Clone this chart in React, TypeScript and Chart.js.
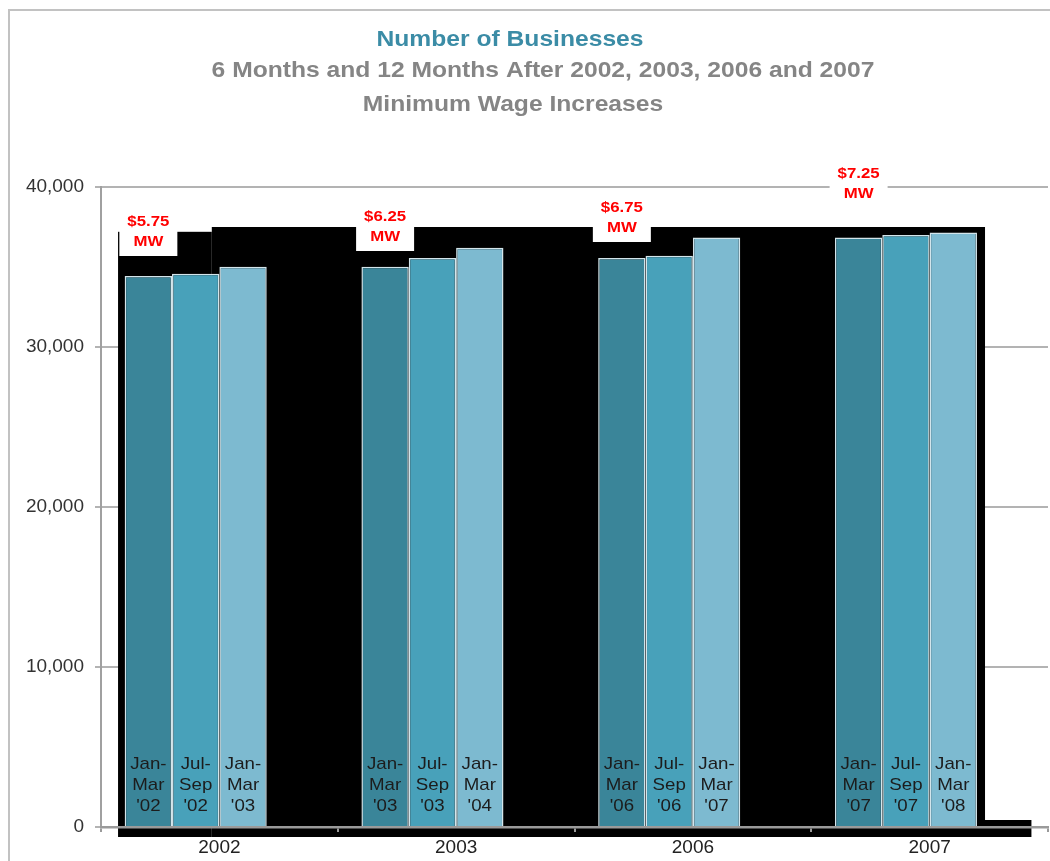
import React, { useEffect, useRef } from 'react';
import { Chart, registerables } from 'chart.js';

Chart.register(...registerables);

// ---- data ----
const categories = ['2002', '2003', '2006', '2007'];
const quarterOfIncrease = [34440, 35020, 35560, 36850];
const sixMonthsAfter = [34580, 35560, 35710, 37000];
const twelveMonthsAfter = [35020, 36210, 36850, 37150];
const quarterOfIncreaseLabels = ["Jan-Mar '02", "Jan-Mar '03", "Jan-Mar '06", "Jan-Mar '07"];
const sixMonthsLabels = ["Jul-Sep '02", "Jul-Sep '03", "Jul-Sep '06", "Jul-Sep '07"];
const twelveMonthsLabels = ["Jan-Mar '03", "Jan-Mar '04", "Jan-Mar '07", "Jan-Mar '08"];
const minimumWages = ['$5.75', '$6.25', '$6.75', '$7.25'];
const yTickValues = [0, 10000, 20000, 30000, 40000];
const titleLines = [
  'Number of Businesses',
  '6 Months and 12 Months After 2002, 2003, 2006 and 2007',
  'Minimum Wage Increases',
];

const FONT = '"Liberation Sans", Arial, Helvetica, sans-serif';
const periodLabels = [quarterOfIncreaseLabels, sixMonthsLabels, twelveMonthsLabels];

function drawStretched(ctx: CanvasRenderingContext2D, text: string, x: number, y: number, sx: number) {
  ctx.save();
  ctx.translate(x, y);
  ctx.scale(sx, 1);
  ctx.fillText(text, 0, 0);
  ctx.restore();
}

function splitPeriod(s: string): string[] {
  const [range, yr] = s.split(' ');
  const [a, b] = range.split('-');
  return [a + '-', b, yr];
}

const decorPlugin = {
  id: 'decor',
  beforeDraw(chart: any) {
    const { ctx, width, height } = chart;
    ctx.save();
    ctx.fillStyle = '#ffffff';
    ctx.fillRect(0, 0, width, height);
    ctx.strokeStyle = '#c2c2c2';
    ctx.lineWidth = 2;
    ctx.beginPath();
    ctx.moveTo(9, height);
    ctx.lineTo(9, 10);
    ctx.lineTo(width, 10);
    ctx.stroke();
    ctx.restore();
  },
  beforeDatasetsDraw(chart: any) {
    const { ctx, chartArea: a, scales } = chart;
    const y = scales.y;
    const cw = (a.right - a.left) / categories.length;
    const L = a.left + 0.072 * cw;
    const step = a.left + 0.468 * cw;
    const R = a.left + 3.734 * cw;
    const R2 = a.left + 3.93 * cw;
    const top = y.getPixelForValue(37500);
    const topL = y.getPixelForValue(37200);
    const base = y.getPixelForValue(0);
    ctx.save();
    ctx.fillStyle = '#000000';
    ctx.fillRect(L, topL, step - L, base + 10 - topL);
    ctx.fillRect(step, top, R - step, base + 10 - top);
    ctx.fillRect(R - 1, base - 7, R2 - R + 1, 17);
    ctx.restore();
  },
  afterDatasetsDraw(chart: any) {
    const { ctx, scales } = chart;
    const yTop = scales.y.getPixelForValue(40000);
    // labels inside bars
    ctx.save();
    ctx.fillStyle = '#1c1c1c';
    ctx.font = `17px ${FONT}`;
    ctx.textAlign = 'center';
    ctx.textBaseline = 'middle';
    for (let d = 0; d < 3; d++) {
      const meta = chart.getDatasetMeta(d);
      meta.data.forEach((el: any, i: number) => {
        const lines = splitPeriod(periodLabels[d][i]);
        const base = el.base;
        const offs = [62, 41, 20];
        lines.forEach((t, k) => drawStretched(ctx, t, el.x, base - offs[k], 1.1));
      });
    }
    // minimum wage labels with white boxes
    const lift = [35, 30, 21, -13];
    const meta0 = chart.getDatasetMeta(0);
    meta0.data.forEach((el: any, i: number) => {
      const cx = el.x;
      const y1 = yTop + lift[i];
      ctx.fillStyle = '#ffffff';
      ctx.fillRect(cx - 29, y1 - 13, 58, 47);
      ctx.fillStyle = '#ff0000';
      ctx.font = `bold 15px ${FONT}`;
      drawStretched(ctx, minimumWages[i], cx, y1, 1.12);
      drawStretched(ctx, 'MW', cx, y1 + 20, 1.12);
    });
    ctx.restore();
  },
  afterDraw(chart: any) {
    const { ctx } = chart;
    ctx.save();
    ctx.textAlign = 'center';
    ctx.textBaseline = 'middle';
    ctx.font = `bold 22px ${FONT}`;
    const xs = [510, 543, 513];
    const ys = [40, 71, 105];
    const colors = ['#3b8ca6', '#858585', '#858585'];
    titleLines.forEach((t, i) => {
      ctx.fillStyle = colors[i];
      drawStretched(ctx, t, xs[i], ys[i], 1.12);
    });
    ctx.restore();
  },
};

export default function App() {
  const ref = useRef<HTMLCanvasElement | null>(null);

  useEffect(() => {
    if (!ref.current) return;
    const chart = new Chart(ref.current, {
      type: 'bar',
      data: {
        labels: categories,
        datasets: [
          {
            label: 'Quarter of increase',
            data: quarterOfIncrease,
            backgroundColor: '#3a8599',
            borderColor: '#d3e5eb',
            borderWidth: 1.5,
            categoryPercentage: 0.8,
            barPercentage: 1,
          },
          {
            label: '6 months after',
            data: sixMonthsAfter,
            backgroundColor: '#48a1ba',
            borderColor: '#d3e5eb',
            borderWidth: 1.5,
            categoryPercentage: 0.8,
            barPercentage: 1,
          },
          {
            label: '12 months after',
            data: twelveMonthsAfter,
            backgroundColor: '#7dbad0',
            borderColor: '#d3e5eb',
            borderWidth: 1.5,
            categoryPercentage: 0.8,
            barPercentage: 1,
          },
          {
            label: '',
            data: [null, null, null, null],
            backgroundColor: 'rgba(0,0,0,0)',
            categoryPercentage: 0.8,
            barPercentage: 1,
          },
        ],
      },
      options: {
        animation: false,
        responsive: false,
        layout: { padding: { left: 0, top: 187, right: 2, bottom: 0 } },
        plugins: {
          legend: { display: false },
          tooltip: { enabled: false },
          title: { display: false },
        },
        scales: {
          x: {
            offset: true,
            grid: {
              display: true,
              drawOnChartArea: false,
              drawTicks: true,
              tickLength: 5,
              color: '#9a9a9a',
              lineWidth: 2,
              z: 1,
            },
            border: { display: true, color: '#9a9a9a', width: 2.5, z: 1 },
            ticks: { padding: 4, color: '#222222', font: { family: FONT, size: 19 } },
            afterFit: (s: any) => {
              s.height = 34;
            },
          },
          y: {
            min: 0,
            max: 40000,
            afterBuildTicks: (s: any) => {
              s.ticks = yTickValues.map((v) => ({ value: v }));
            },
            ticks: {
              padding: 11,
              color: '#333333',
              font: { family: FONT, size: 19 },
              callback: (v: any) => Number(v).toLocaleString('en-US'),
            },
            grid: { color: '#b3b3b3', lineWidth: 2, tickLength: 6 },
            border: { display: true, color: '#a0a0a0', width: 2 },
            afterFit: (s: any) => {
              s.width = 101;
            },
          },
        },
      } as any,
      plugins: [decorPlugin as any],
    });
    return () => chart.destroy();
  }, []);

  return (
    <div style={{ position: 'absolute', left: 0, top: 0, width: 1050, height: 861 }}>
      <canvas ref={ref} width={1050} height={861} style={{ display: 'block' }} />
    </div>
  );
}
